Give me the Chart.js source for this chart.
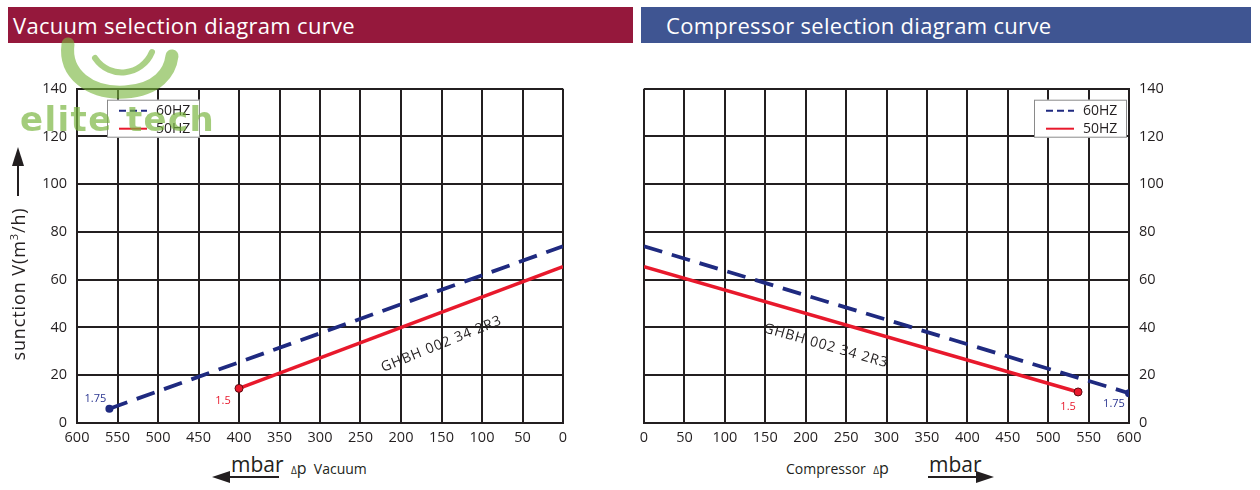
<!DOCTYPE html>
<html>
<head>
<meta charset="utf-8">
<script src="https://cdn.jsdelivr.net/npm/chart.js@4.4.1/dist/chart.umd.min.js"></script>
<style>
  html, body { margin: 0; padding: 0; background: #fff; }
  body { width: 1260px; height: 490px; position: relative; overflow: hidden; font-family: "Open Sans", sans-serif; color: #231f20; }
  .bar { position: absolute; top: 7px; height: 36px; color: #fff; font-size: 22px; line-height: 36px; box-sizing: border-box; letter-spacing: 0.3px; }
  #barL { left: 8px; width: 625px; background: #95183c; padding-left: 5px; }
  #barR { left: 641px; width: 610px; background: #3f5592; padding-left: 25px; }
  canvas { position: absolute; }
  #cL { left: 0; top: 70px; }
  #cR { left: 630px; top: 70px; }
  .txt { position: absolute; white-space: nowrap; }
  #ytitle { left: 18px; top: 284px; font-size: 18px; transform: translate(-50%, -50%) rotate(-90deg); letter-spacing: 0.9px; }
  .mbar { font-size: 21px; }
  .small { font-size: 14px; }
  svg { position: absolute; left: 0; top: 0; }
  #wm { position: absolute; left: 20px; top: 99px; font: bold 34px "DejaVu Sans", sans-serif; color: rgba(120, 180, 60, 0.68); letter-spacing: 1.4px; }
</style>
</head>
<body>
<div class="bar" id="barL">Vacuum selection diagram curve</div>
<div class="bar" id="barR">Compressor selection diagram curve</div>
<canvas id="cL" width="630" height="380"></canvas>
<canvas id="cR" width="630" height="380"></canvas>

<div class="txt" id="ytitle">sunction V(m<sup style="font-size:11px">3</sup>/h)</div>
<div class="txt mbar" style="left:231px; top:450px;">mbar</div>
<div class="txt small" style="left:291px; top:457px;"><span style="font-size:10px">&Delta;</span><span style="font-size:16px">p</span>&nbsp; Vacuum</div>
<div class="txt small" style="left:786px; top:457px;">Compressor&nbsp; <span style="font-size:10px">&Delta;</span><span style="font-size:16px">p</span></div>
<div class="txt mbar" style="left:929px; top:450px;">mbar</div>

<svg width="1260" height="490">
  <!-- arrows -->
  <line x1="18" y1="196" x2="18" y2="160" stroke="#231f20" stroke-width="2"/>
  <polygon points="18,147 12,166 24,166" fill="#231f20"/>
  <line x1="222" y1="477" x2="279" y2="477" stroke="#231f20" stroke-width="2"/>
  <polygon points="212,477 230,471 230,483" fill="#231f20"/>
  <line x1="928" y1="477" x2="985" y2="477" stroke="#231f20" stroke-width="2"/>
  <polygon points="994,477 976,471 976,483" fill="#231f20"/>
  <!-- watermark swirl -->
  <g fill="none" stroke="rgba(120,180,60,0.62)" stroke-linecap="round">
    <path d="M68 44 C 64 74, 90 94, 125 92 C 158 90, 170 72, 172 56" stroke-width="13"/>
    <path d="M95 58 C 110 80, 142 76, 152 52" stroke-width="6"/>
  </g>
</svg>
<div id="wm">elite tech</div>

<script>
const yTicks = [0, 20, 40, 60, 80, 100, 120, 140];
const xTicks = [0, 50, 100, 150, 200, 250, 300, 350, 400, 450, 500, 550, 600];

// vacuum side (pressure difference in mbar, suction in m3/h)
const vacP60 = [560, 0];
const vacV60 = [6, 74];
const vacP50 = [400, 0];
const vacV50 = [14.5, 65.5];

// compressor side
const cmpP60 = [0, 600];
const cmpV60 = [74, 12.5];
const cmpP50 = [0, 537];
const cmpV50 = [65.5, 13];

const modelName = 'GHBH 002 34 2R3';
const endLabels = { hz60: '1.75', hz50: '1.5' };

const INK = '#231f20';
const BLUE = '#1f2a80';
const RED = '#e8192c';

const pts = (xs, ys) => xs.map((x, i) => ({ x, y: ys[i] }));

function notes(cfg) {
    return {
        id: 'notes',
        afterDatasetsDraw(chart) {
            const { ctx, chartArea: a, scales: { x, y } } = chart;
            ctx.save();

            // legend box
            const bx = cfg.legendRight ? a.right - 95 : a.left + 30;
            const by = a.top + 11;
            ctx.fillStyle = '#fff';
            ctx.fillRect(bx, by, 93, 38);
            ctx.strokeStyle = '#8a8a8a';
            ctx.lineWidth = 1;
            ctx.strokeRect(bx + 0.5, by + 0.5, 92, 37);
            ctx.lineWidth = 2;
            ctx.strokeStyle = BLUE;
            ctx.setLineDash([7, 4]);
            ctx.beginPath(); ctx.moveTo(bx + 12, by + 11); ctx.lineTo(bx + 40, by + 11); ctx.stroke();
            ctx.setLineDash([]);
            ctx.strokeStyle = RED;
            ctx.beginPath(); ctx.moveTo(bx + 12, by + 29); ctx.lineTo(bx + 40, by + 29); ctx.stroke();
            ctx.fillStyle = INK;
            ctx.font = '14px "Open Sans"';
            ctx.textBaseline = 'middle';
            ctx.textAlign = 'left';
            ctx.fillText('60HZ', bx + 49, by + 11);
            ctx.fillText('50HZ', bx + 49, by + 29);

            // end point values
            ctx.font = '11px "Open Sans"';
            ctx.textAlign = 'center';
            cfg.ends.forEach(e => {
                ctx.fillStyle = e.color;
                ctx.fillText(e.text, x.getPixelForValue(e.x) + e.dx, y.getPixelForValue(e.y) + e.dy);
            });

            // model name along the curves
            ctx.translate(x.getPixelForValue(cfg.name.x), y.getPixelForValue(cfg.name.y));
            ctx.rotate(cfg.name.angle * Math.PI / 180);
            ctx.fillStyle = INK;
            ctx.font = '14px "Open Sans"';
            ctx.letterSpacing = '0.9px';
            ctx.fillText(modelName, 0, 0);
            ctx.restore();
        }
    };
}

function makeChart(id, opt) {
    new Chart(document.getElementById(id), {
        type: 'line',
        data: {
            datasets: [
                {
                    label: '60HZ',
                    data: opt.d60,
                    borderColor: BLUE,
                    backgroundColor: BLUE,
                    borderWidth: 3.8,
                    borderDash: [19, 10],
                    pointRadius: opt.dot60,
                    pointBorderWidth: 0,
                },
                {
                    label: '50HZ',
                    data: opt.d50,
                    borderColor: RED,
                    backgroundColor: RED,
                    borderWidth: 3.5,
                    pointRadius: opt.dot50,
                    pointBorderColor: '#5a0a10',
                    pointBorderWidth: 1,
                },
            ],
        },
        options: {
            responsive: false,
            animation: false,
            layout: { padding: opt.padding, autoPadding: false },
            plugins: { legend: { display: false }, tooltip: { enabled: false } },
            scales: {
                x: {
                    type: 'linear',
                    min: 0,
                    max: 600,
                    reverse: opt.reverse,
                    afterBuildTicks: s => { s.ticks = xTicks.map(v => ({ value: v })); },
                    afterFit: s => { s.height = 27; },
                    grid: { color: INK, lineWidth: 2, drawTicks: false },
                    border: { color: INK, width: 2 },
                    ticks: { color: INK, padding: 6, font: { family: 'Open Sans', size: 14.5 }, maxRotation: 0 },
                },
                y: {
                    position: opt.yPos,
                    min: 0,
                    max: 140,
                    afterBuildTicks: s => { s.ticks = yTicks.map(v => ({ value: v })); },
                    afterFit: s => { s.width = opt.yWidth; },
                    grid: { color: INK, lineWidth: 2, drawTicks: false },
                    border: { color: INK, width: 2 },
                    ticks: { color: INK, padding: 10, font: { family: 'Open Sans', size: 14.5 } },
                },
            },
        },
        plugins: [notes(opt.notes)],
    });
}

makeChart('cL', {
    d60: pts(vacP60, vacV60),
    d50: pts(vacP50, vacV50),
    dot60: [4, 0],
    dot50: [4, 0],
    reverse: true,
    yPos: 'left',
    yWidth: 77,
    padding: { left: 0, right: 67, top: 14, bottom: 0 },
    notes: {
        legendRight: false,
        ends: [
            { text: endLabels.hz60, x: vacP60[0], y: vacV60[0], dx: -14, dy: -10, color: '#2a3590' },
            { text: endLabels.hz50, x: vacP50[0], y: vacV50[0], dx: -16, dy: 12, color: RED },
        ],
        name: { x: 150, y: 33, angle: -22 },
    },
});

makeChart('cR', {
    d60: pts(cmpP60, cmpV60),
    d50: pts(cmpP50, cmpV50),
    dot60: [0, 4],
    dot50: [0, 4],
    reverse: false,
    yPos: 'right',
    yWidth: 40,
    padding: { left: 14, right: 91, top: 14, bottom: 0 },
    notes: {
        legendRight: true,
        ends: [
            { text: endLabels.hz50, x: cmpP50[1], y: cmpV50[1], dx: -10, dy: 15, color: RED },
            { text: endLabels.hz60, x: cmpP60[1], y: cmpV60[1], dx: -15, dy: 11, color: '#2a3590' },
        ],
        name: { x: 225, y: 32.3, angle: 16 },
    },
});
</script>
</body>
</html>
